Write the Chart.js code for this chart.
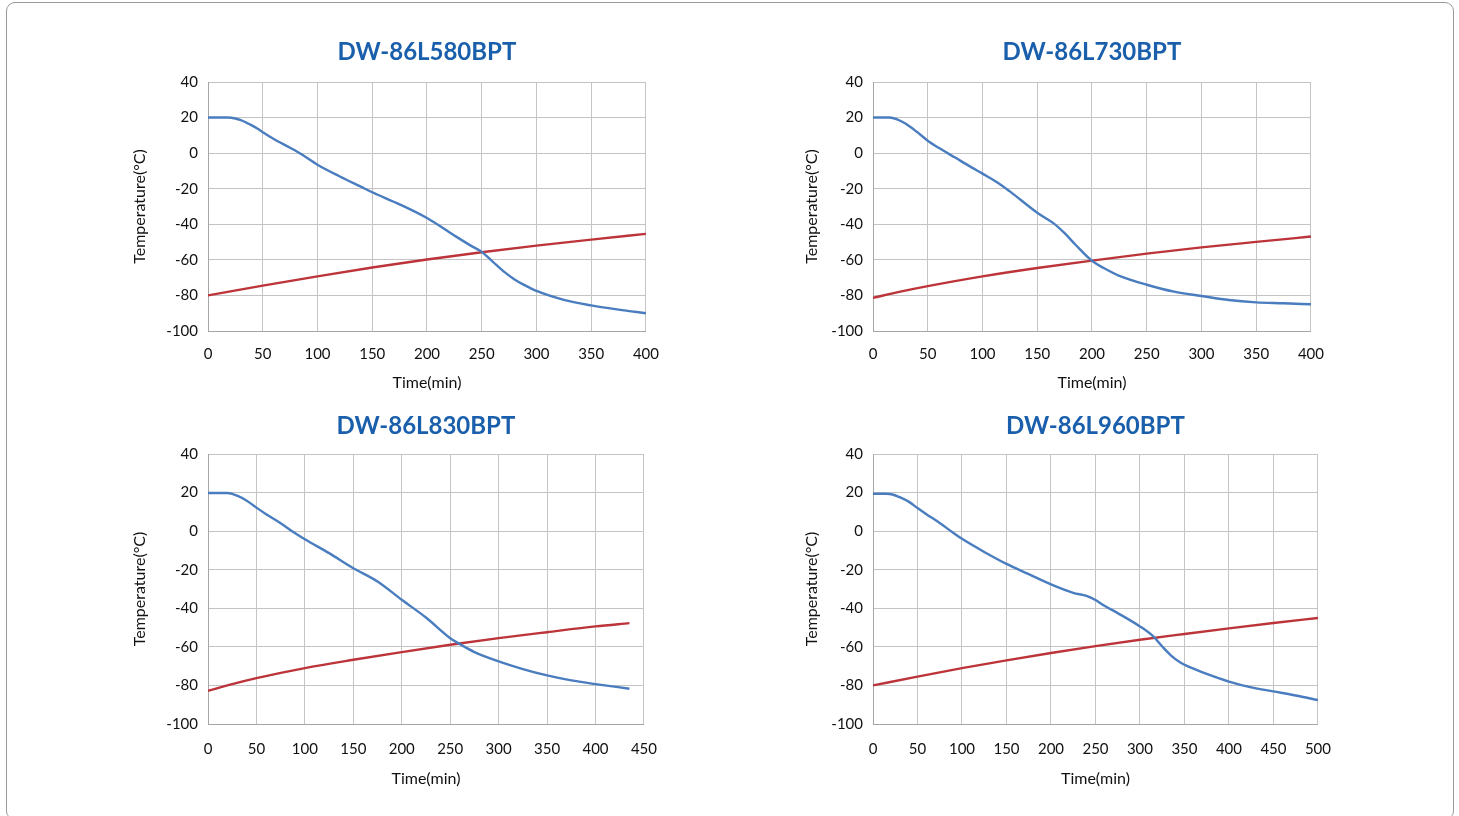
<!DOCTYPE html>
<html>
<head>
<meta charset="utf-8">
<script src="https://cdn.jsdelivr.net/npm/chart.js@4.4.1/dist/chart.umd.min.js"></script>
<style>
  html, body { margin: 0; padding: 0; background: #ffffff; }
  body { width: 1459px; height: 816px; position: relative; overflow: hidden; }
  #frame { position: absolute; left: 6px; top: 2px; width: 1448px; height: 818px; border: 1px solid #9a9a9a; border-radius: 9px; box-sizing: border-box; }
  canvas { position: absolute; }
</style>
</head>
<body>
<div id="frame"></div>
<canvas id="c1" width="563" height="380" style="left:110px;top:20px;width:563px;height:380px"></canvas>
<canvas id="c2" width="563" height="380" style="left:775px;top:20px;width:563px;height:380px"></canvas>
<canvas id="c3" width="563" height="400" style="left:110px;top:394px;width:563px;height:400px"></canvas>
<canvas id="c4" width="572" height="400" style="left:775px;top:394px;width:572px;height:400px"></canvas>
<script>
// ---- Chart titles ----
const titles = ['DW-86L580BPT', 'DW-86L730BPT', 'DW-86L830BPT', 'DW-86L960BPT'];
const xAxisTitle = 'Time(min)';
const yAxisTitle = 'Temperature(°C)';
const yTicksMin = -100, yTicksMax = 40, yTickStep = 20;
const xMax = [400, 400, 450, 500];
const xTickStep = 50;

// ---- DW-86L580BPT ----
const time1Blue = [0, 18, 25, 30, 35, 40, 45, 50, 60, 75, 85, 100, 120, 140, 150, 175, 200, 225, 240, 250, 260, 270, 280, 290, 300, 325, 350, 375, 400];
const temp1Blue = [20, 20, 19.5, 18.6, 17.2, 15.6, 13.8, 11.8, 8, 3, -0.5, -6.5, -13, -19, -22, -28.8, -36.5, -46.3, -52, -55.5, -61, -66.5, -71, -74.5, -77.5, -82.5, -85.6, -88, -90];
const time1Red = [0, 50, 100, 150, 200, 250, 300, 350, 400];
const temp1Red = [-80, -74.5, -69.3, -64.3, -59.8, -55.7, -52, -48.6, -45.4];

// ---- DW-86L730BPT ----
const time2Blue = [0, 15, 22, 30, 40, 50, 60, 75, 90, 100, 115, 125, 150, 165, 175, 185, 200, 215, 225, 250, 275, 300, 325, 350, 375, 400];
const temp2Blue = [20, 20, 19, 16.5, 12, 7, 3, -2.5, -8, -11.5, -17, -21.5, -33.5, -39.5, -45, -51.5, -60.5, -66, -69, -74, -77.9, -80.3, -82.6, -83.9, -84.4, -85];
const time2Red = [0, 25, 50, 100, 150, 200, 250, 300, 350, 400];
const temp2Red = [-81.3, -77.9, -74.8, -69.3, -64.6, -60.4, -56.5, -53, -49.9, -46.9];

// ---- DW-86L830BPT ----
const time3Blue = [0, 20, 30, 40, 50, 60, 75, 90, 100, 125, 150, 175, 200, 225, 250, 260, 275, 300, 325, 350, 375, 400, 435];
const temp3Blue = [19.8, 19.8, 18.4, 15.8, 12.2, 8.8, 4.1, -1.1, -4.2, -11.4, -19.2, -26.1, -35.6, -44.8, -55.5, -58.6, -62.7, -67.5, -71.5, -74.8, -77.4, -79.3, -81.7];
const time3Red = [0, 25, 50, 100, 150, 200, 250, 300, 350, 400, 435];
const temp3Red = [-82.8, -79.3, -76.2, -71, -66.7, -62.7, -58.9, -55.5, -52.4, -49.4, -47.7];

// ---- DW-86L960BPT ----
const time4Blue = [0, 15, 22, 30, 40, 50, 60, 75, 90, 100, 125, 150, 175, 200, 225, 240, 250, 260, 275, 300, 315, 325, 335, 345, 360, 375, 400, 425, 450, 475, 500];
const temp4Blue = [19.4, 19.4, 19, 17.6, 15.3, 12, 8.8, 4.2, -0.8, -4, -10.8, -17, -22.3, -27.6, -32, -33.6, -35.7, -38.7, -42.5, -49.4, -54.6, -59.8, -64.5, -68, -71.3, -74, -78, -81, -83.1, -85.2, -87.6];
const time4Red = [0, 50, 100, 150, 200, 250, 300, 350, 400, 450, 500];
const temp4Red = [-80, -75.4, -71, -67, -63.2, -59.6, -56.3, -53.3, -50.4, -47.6, -45];

const BLUE = '#4a7dbf';
const RED = '#bc3439';
const GRID = '#c4c4c4';
const AXIS = '#a6a6a6';
const FONT = 'Lato, "Open Sans", sans-serif';

function pts(xs, ys) { return xs.map((x, i) => ({ x: x, y: ys[i] })); }

function makeChart(id, title, xmax, bx, by, rx, ry, lay) {
  new Chart(document.getElementById(id), {
    type: 'line',
    data: {
      datasets: [
        { data: pts(bx, by), borderColor: BLUE, borderWidth: 2.4, pointRadius: 0, cubicInterpolationMode: 'monotone', fill: false },
        { data: pts(rx, ry), borderColor: RED, borderWidth: 2.4, pointRadius: 0, cubicInterpolationMode: 'monotone', fill: false }
      ]
    },
    options: {
      responsive: false,
      animation: false,
      events: [],
      layout: { padding: { left: 0, right: 0, top: 0, bottom: 0 } },
      plugins: {
        legend: { display: false },
        tooltip: { enabled: false },
        title: {
          display: true,
          text: title,
          fullSize: false,
          color: '#1a5fab',
          font: { family: FONT, size: 24, weight: 'bold', lineHeight: 1.2 },
          padding: { top: lay.tTop, bottom: lay.tBottom }
        }
      },
      scales: {
        x: {
          type: 'linear',
          min: 0, max: xmax,
          ticks: { stepSize: xTickStep, color: '#111', font: { family: FONT, size: 15 }, padding: lay.xTickPad, maxRotation: 0 },
          grid: { color: GRID, lineWidth: 1, drawTicks: false },
          border: { display: true, color: AXIS, width: 1 },
          title: { display: true, text: xAxisTitle, color: '#111', font: { family: FONT, size: 16, lineHeight: 1.2 }, padding: { top: 0, bottom: lay.xTitlePad } },
          afterFit: function (s) { s.height = lay.xH; }
        },
        y: {
          type: 'linear',
          min: yTicksMin, max: yTicksMax,
          ticks: { stepSize: yTickStep, color: '#111', font: { family: FONT, size: 15 }, padding: 10 },
          grid: { color: GRID, lineWidth: 1, drawTicks: false },
          border: { display: true, color: AXIS, width: 1 },
          title: { display: true, text: yAxisTitle, color: '#111', font: { family: FONT, size: 16, lineHeight: 1.2 }, padding: { top: lay.yTitlePad, bottom: 0 } },
          afterFit: function (s) { s.width = 98; }
        }
      }
    }
  });
}

makeChart('c1', titles[0], xMax[0], time1Blue, temp1Blue, time1Red, temp1Red,
  { tTop: 17.6, tBottom: 15.6, xH: 69, xTickPad: 14, xTitlePad: 7.4, yTitlePad: 20.4 });
makeChart('c2', titles[1], xMax[1], time2Blue, temp2Blue, time2Red, temp2Red,
  { tTop: 17.6, tBottom: 15.6, xH: 69, xTickPad: 14, xTitlePad: 7.4, yTitlePad: 27.4 });
makeChart('c3', titles[2], xMax[2], time3Blue, temp3Blue, time3Red, temp3Red,
  { tTop: 17.6, tBottom: 13.6, xH: 70, xTickPad: 16, xTitlePad: 5.4, yTitlePad: 20.4 });
makeChart('c4', titles[3], xMax[3], time4Blue, temp4Blue, time4Red, temp4Red,
  { tTop: 17.6, tBottom: 13.6, xH: 70, xTickPad: 16, xTitlePad: 5.4, yTitlePad: 27.4 });
</script>
</body>
</html>
